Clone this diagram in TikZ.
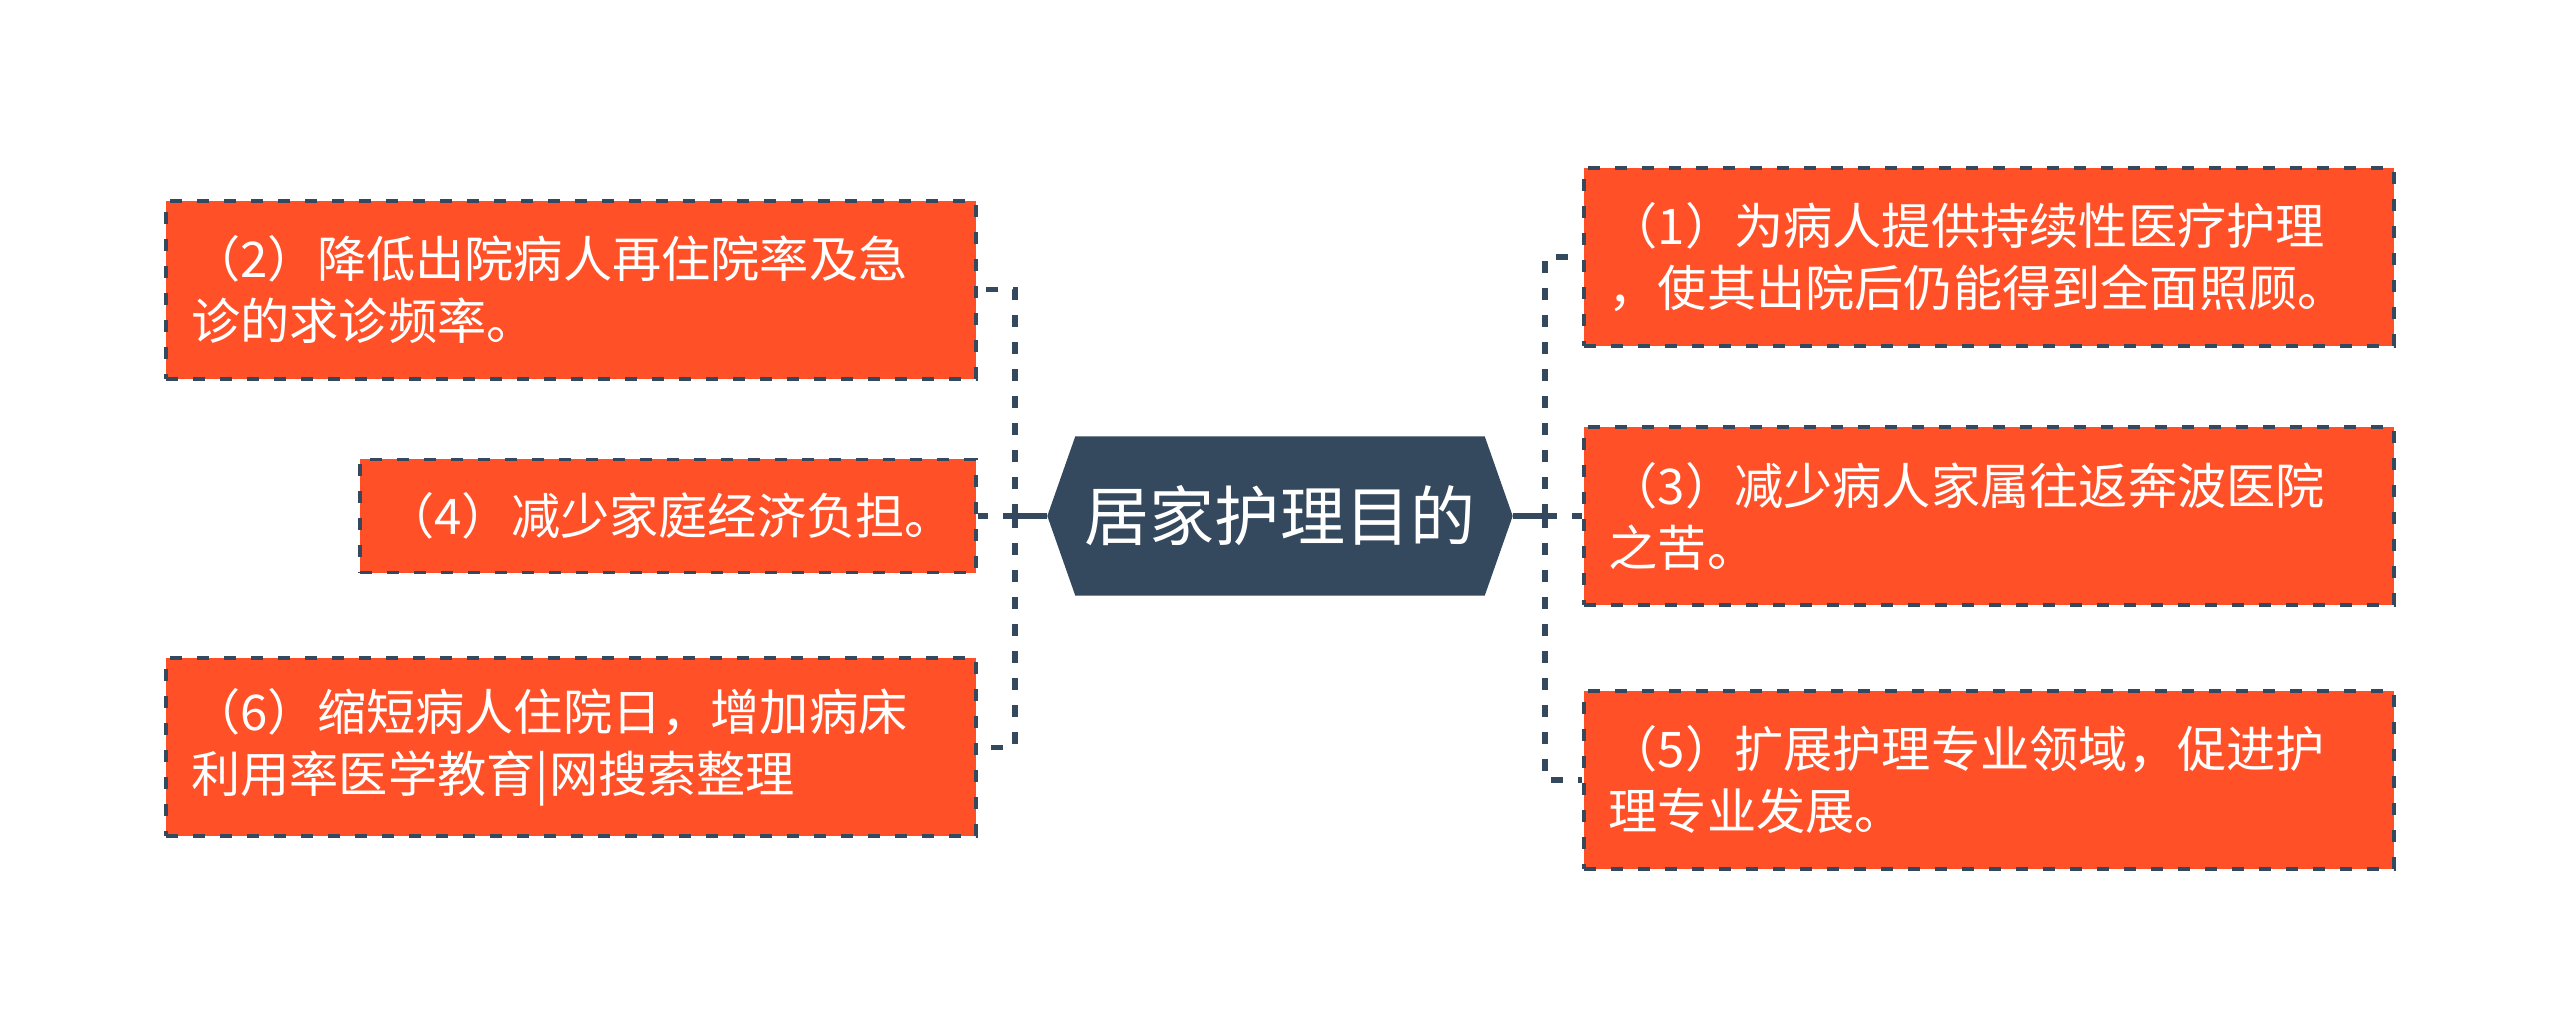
\documentclass[tikz,border=0pt]{standalone}
\usepackage{fontspec}
\setmainfont{Noto Sans CJK SC}
\usetikzlibrary{positioning,calc,backgrounds}
\definecolor{leafred}{RGB}{255,80,40}
\definecolor{slate}{RGB}{52,72,94}

\begin{document}
\begin{tikzpicture}[
  leaf/.style={draw=slate,fill=leafred,line width=1.1pt,
    dash pattern=on 0.12cm off 0.15cm,text=white,
    inner xsep=0.25cm,inner ysep=0pt,minimum height=1.78cm,
    text width=7.6cm,align=left,
    font=\fontsize{14pt}{17.6pt}\selectfont},
  branch/.style={draw=slate,line width=1.6pt,dash pattern=on 0.12cm off 0.15cm},
  spoke/.style={draw=slate,line width=1.6pt}]
\useasboundingbox (0,0) rectangle (25.6,-10.34);
\node[minimum width=4.64cm,minimum height=1.58cm,inner sep=0pt,
      text=white,font=\fontsize{18.5pt}{22pt}\selectfont](goal)
  at(12.80,-5.16){居家护理目的};
\begin{scope}[on background layer]
\fill[slate](goal.west)--([xshift=0.28cm]goal.north west)
  --([xshift=-0.28cm]goal.north east)--(goal.east)
  --([xshift=-0.28cm]goal.south east)--([xshift=0.28cm]goal.south west)--cycle;
\end{scope}
% left side
\node[leaf,text width=5.66cm,minimum height=1.13cm,left=0.69cm of goal](cut)
  {（4）减少家庭经济负担。};
\node[leaf,above=0.77cm of cut.north east,anchor=south east](readmit)
  {（2）降低出院病人再住院率及急\\诊的求诊频率。};
\node[leaf,below=0.82cm of cut.south east,anchor=north east](shorten)
  {（6）缩短病人住院日，增加病床\\利用率医学教育|网搜索整理};
% right side
\node[leaf,right=0.69cm of goal](relief)
  {（3）减少病人家属往返奔波医院\\之苦。};
\node[leaf,above=0.77cm of relief.north west,anchor=south west](care)
  {（1）为病人提供持续性医疗护理\\，使其出院后仍能得到全面照顾。};
\node[leaf,below=0.82cm of relief.south west,anchor=north west](expand)
  {（5）扩展护理专业领域，促进护\\理专业发展。};
\coordinate(ljoint) at(10.15,-5.16);
\coordinate(rjoint) at(15.45,-5.16);
\draw[spoke](goal.west)--(ljoint);
\draw[branch](ljoint)--(cut.east);
\draw[branch](ljoint)|-(readmit.east);
\draw[branch](ljoint)|-(shorten.east);
\draw[spoke](goal.east)--(rjoint);
\draw[branch](rjoint)--(relief.west);
\draw[branch](rjoint)|-(care.west);
\draw[branch](rjoint)|-(expand.west);
\end{tikzpicture}
\end{document}
